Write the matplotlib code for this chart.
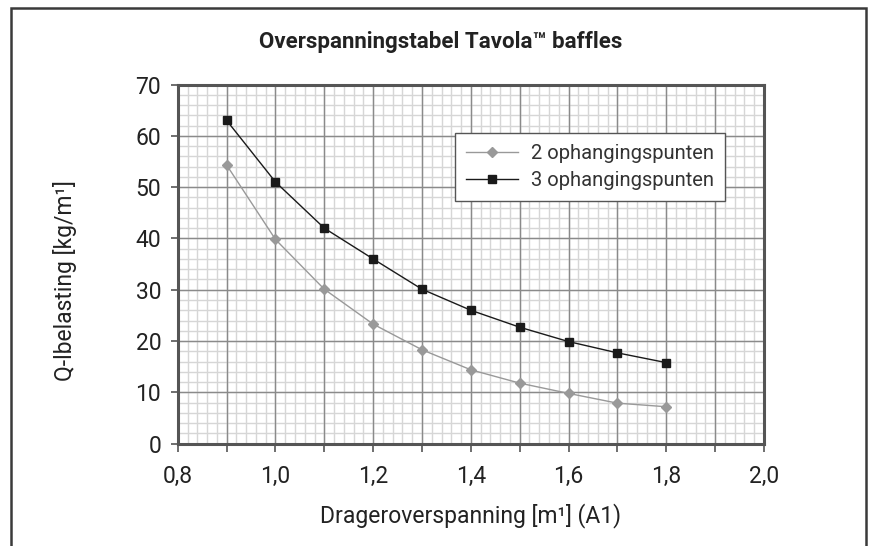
import numpy as np
import matplotlib.pyplot as plt
from matplotlib.patches import Rectangle
from matplotlib.ticker import MultipleLocator, FuncFormatter

# overspanning [m1]
overspanning = [0.9, 1.0, 1.1, 1.2, 1.3, 1.4, 1.5, 1.6, 1.7, 1.8]
# Q-belasting [kg/m1]
twee_punten = [54.3, 39.8, 30.1, 23.3, 18.3, 14.4, 11.8, 9.8, 7.9, 7.2]
drie_punten = [63.0, 51.0, 42.0, 36.0, 30.1, 26.0, 22.7, 19.9, 17.7, 15.8]

plt.rcParams['font.family'] = ['Roboto', 'DejaVu Sans']

fig = plt.figure(figsize=(8.82, 5.46), dpi=100)
ax = fig.add_axes([0.2016, 0.1874, 0.6645, 0.6578])

# buitenkader
fig.patches.append(Rectangle((11 / 882, -0.05), 855 / 882, 1.05 - 8 / 546,
                             transform=fig.transFigure, fill=False,
                             edgecolor='#3a3a3a', linewidth=1.8))

ax.set_xlim(0.8, 2.0)
ax.set_ylim(0, 70)
ax.xaxis.set_major_locator(MultipleLocator(0.2))
ax.xaxis.set_minor_locator(MultipleLocator(0.1))
ax.yaxis.set_major_locator(MultipleLocator(10))

# raster
for x in np.arange(0.8, 2.0001, 0.02):
    ax.axvline(x, color='#d6d6d6', linewidth=1.0, zorder=0)
for y in np.arange(0, 70.001, 2):
    ax.axhline(y, color='#d6d6d6', linewidth=1.0, zorder=0)
for x in np.arange(0.9, 2.0, 0.1):
    ax.axvline(x, color='#8a8a8a', linewidth=1.0, zorder=1)
for y in np.arange(10, 70, 10):
    ax.axhline(y, color='#8a8a8a', linewidth=1.0, zorder=1)

ax.plot(overspanning, twee_punten, color='#999999', linewidth=1.0,
        marker='D', markersize=5, markerfacecolor='#999999',
        markeredgecolor='#999999', label='2 ophangingspunten', zorder=3)
ax.plot(overspanning, drie_punten, color='#1a1a1a', linewidth=1.0,
        marker='s', markersize=6, markerfacecolor='#1a1a1a',
        markeredgecolor='#1a1a1a', label='3 ophangingspunten', zorder=3)

for s in ax.spines.values():
    s.set_color('#555555')
    s.set_linewidth(2.2)

ax.tick_params(axis='both', which='both', direction='out', color='#555555',
               width=1.2, labelsize=16.5, labelcolor='#222222')
ax.tick_params(axis='x', which='both', length=5.5, pad=9.5)
ax.tick_params(axis='y', which='major', length=5, pad=7)
ax.xaxis.set_major_formatter(FuncFormatter(lambda v, p: f"{v:.1f}".replace('.', ',')))

ax.set_xlabel('Drageroverspanning [m¹] (A1)', fontsize=16.5, color='#222222',
              labelpad=11)
ax.set_ylabel('Q-lbelasting [kg/m¹]', fontsize=16.5, color='#222222')
ax.yaxis.set_label_coords(-0.172, 0.453)
fig.text(0.5, 0.923, 'Overspanningstabel Tavola™ baffles', ha='center',
         va='center', fontsize=16, fontweight='bold', color='#222222')

leg = ax.legend(loc='upper left', bbox_to_anchor=(0.473, 0.865),
                frameon=True, fancybox=False,
                edgecolor='#555555', framealpha=1, handlelength=2.6,
                handletextpad=0.6, borderpad=0.55, labelspacing=0.38,
                borderaxespad=0, prop={'size': 14.5})
leg.get_frame().set_linewidth(1.0)
for t in leg.get_texts():
    t.set_color('#333333')

fig.savefig('out.png', dpi=100)
